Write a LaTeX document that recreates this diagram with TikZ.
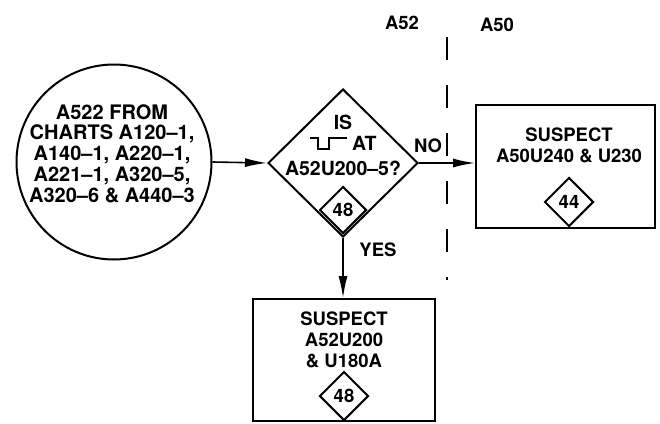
\documentclass[tikz,border=0pt]{standalone}
\usepackage{fontspec}
\setmainfont{TeX Gyre Heros}
\usetikzlibrary{positioning,shapes.geometric,arrows.meta}

% pulse symbol drawn with rules
\newcommand{\pulsesym}{%
  \rule[11pt]{7pt}{2pt}\rule{2pt}{13pt}\rule{9pt}{2pt}%
  \rule{2pt}{13pt}\rule[11pt]{17pt}{2pt}}

\tikzset{
  txt/.style={align=center,inner sep=0pt,font=\fontsize{18.5}{21}\selectfont\bfseries},
  widetxt/.style={txt,font=\fontsize{20}{20.7}\selectfont\bfseries},
  stepbox/.style={draw,line width=2pt,rectangle,inner sep=0pt},
  tag/.style={draw,diamond,shape aspect=1,minimum size=49pt,inner sep=0pt,line width=2pt,
    font=\fontsize{18.5}{21}\selectfont\bfseries},
  arr/.style={-{Latex[length=22pt,width=9pt]},line width=1.6pt},
}

\begin{document}
\begin{tikzpicture}[x=1pt,y=-1pt]
  \useasboundingbox (0,0) rectangle (660,423);

  % entry circle
  \node[draw,circle,line width=2pt,minimum size=195pt,inner sep=0pt] (src) at (114,162) {};
  \node[widetxt] (srctxt) at (112,153.5) {A522 FROM\\CHARTS A120--1,\\A140--1, A220--1,\\A221--1, A320--5,\\A320--6 \& A440--3};

  % decision
  \node[draw,diamond,line width=2pt,minimum width=150pt,minimum height=148pt,inner sep=0pt] (dec) at (343,163) {};
  \node[txt,font=\fontsize{19.5}{21}\selectfont\bfseries] (dectxt) at (343,145) {IS\\\pulsesym\ AT\\[4pt]A52U200--5?};
  \node[tag,minimum size=47pt] (dectag) at (343,210) {48};

  % results
  \node[stepbox,minimum width=179pt,minimum height=123pt] (rbox) at (565.5,166.5) {};
  \node[txt] (rtxt) at (569,145) {SUSPECT\\A50U240 \& U230};
  \node[tag] (rtag) at (569,202) {44};

  \node[stepbox,minimum width=182pt,minimum height=122pt] (bbox) at (344,360) {};
  \node[txt] (btxt) at (344,340) {SUSPECT\\A52U200\\\& U180A};
  \node[tag] (btag) at (344,396) {48};

  % board divider
  \coordinate (dtop) at (447,37);
  \coordinate (dbot) at (447,280);
  \draw[line width=2.4pt,dash pattern=on 23pt off 25pt] (dtop) -- (dbot);
  \node[txt] (lleft) at (402,23) {A52};
  \node[txt] (lright) at (497,25) {A50};

  % connectors
  \draw[arr] (src.east) -- (dec.west);
  \draw[arr] (dec.east) -- (dec.east -| rbox.west);
  \draw[arr] (dec.south) -- (dec.south |- bbox.north);
  \node[txt] (no) at (428,146) {NO};
  \node[txt] (yes) at (378,250) {YES};
\end{tikzpicture}
\end{document}
